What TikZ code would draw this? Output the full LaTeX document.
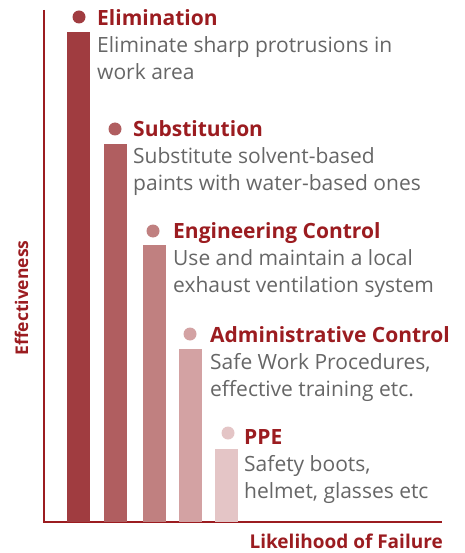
\documentclass[tikz,border=0pt]{standalone}
\usepackage{fontspec}
\setmainfont{Open Sans}
\definecolor{hcred}{HTML}{9B1C20}
\definecolor{notegray}{HTML}{666666}
\definecolor{barA}{HTML}{A03C40}
\definecolor{barB}{HTML}{B05E60}
\definecolor{barC}{HTML}{C08080}
\definecolor{barD}{HTML}{D3A2A3}
\definecolor{barE}{HTML}{E4C5C6}
\tikzset{
  title/.style={anchor=base west,inner sep=0pt,text=hcred,font=\fontsize{21}{27}\selectfont\bfseries},
  note/.style={anchor=base west,inner sep=0pt,align=left,text=notegray,font=\fontsize{21}{27}\selectfont},
  axislabel/.style={inner sep=0pt,text depth=0pt,text=hcred,font=\bfseries}
}

\begin{document}
\begin{tikzpicture}[x=1pt,y=-1pt]
   \def\base{522}
   \useasboundingbox (0,0) rectangle (464,553);
   % axes
   \coordinate (top) at (44,10);
   \coordinate (origin) at (44,\base);
   \coordinate (right) at (442,\base);
   \draw[hcred,line width=1.8pt] (top) -- (origin) -- (right);
   \node[axislabel,anchor=base east,font=\fontsize{19}{24}\selectfont\bfseries] (likelihood) at (443,548) {Likelihood of Failure};
   \node[axislabel,anchor=base,rotate=90,font=\fontsize{17.5}{20}\selectfont\bfseries] (effect) at (28,298) {Effectiveness};
   % bars, highest first
   \fill[barA] ( 67, 32) rectangle ( 90,\base);
   \fill[barB] (104,144) rectangle (127,\base);
   \fill[barC] (143,245) rectangle (166,\base);
   \fill[barD] (179,349) rectangle (202,\base);
   \fill[barE] (215,449) rectangle (238,\base);
   % dots over the bars
   \fill[barA] ( 79,17) circle(6.5);
   \fill[barB] (115,129) circle(6.5);
   \fill[barC] (153,231) circle(6.5);
   \fill[barD] (190,334) circle(6.5);
   \fill[barE] (228,433) circle(6.5);
   % titles and notes (a note sits on its last line)
   \node[title] (elim) at (97,26) {Elimination};
   \node[note] (elimnote) at (97,80) {Eliminate sharp protrusions in\\work area};
   \node[title] (subst) at (133,137) {Substitution};
   \node[note] (substnote) at (133,191) {Substitute solvent-based\\paints with water-based ones};
   \node[title] (engin) at (173,238) {Engineering Control};
   \node[note] (enginnote) at (173,292) {Use and maintain a local\\exhaust ventilation system};
   \node[title] (admin) at (210,342) {Administrative Control};
   \node[note] (adminnote) at (210,396) {Safe Work Procedures,\\effective training etc.};
   \node[title] (ppe) at (244,444) {PPE};
   \node[note] (ppenote) at (244,498) {Safety boots,\\helmet, glasses etc};
\end{tikzpicture}
\end{document}
